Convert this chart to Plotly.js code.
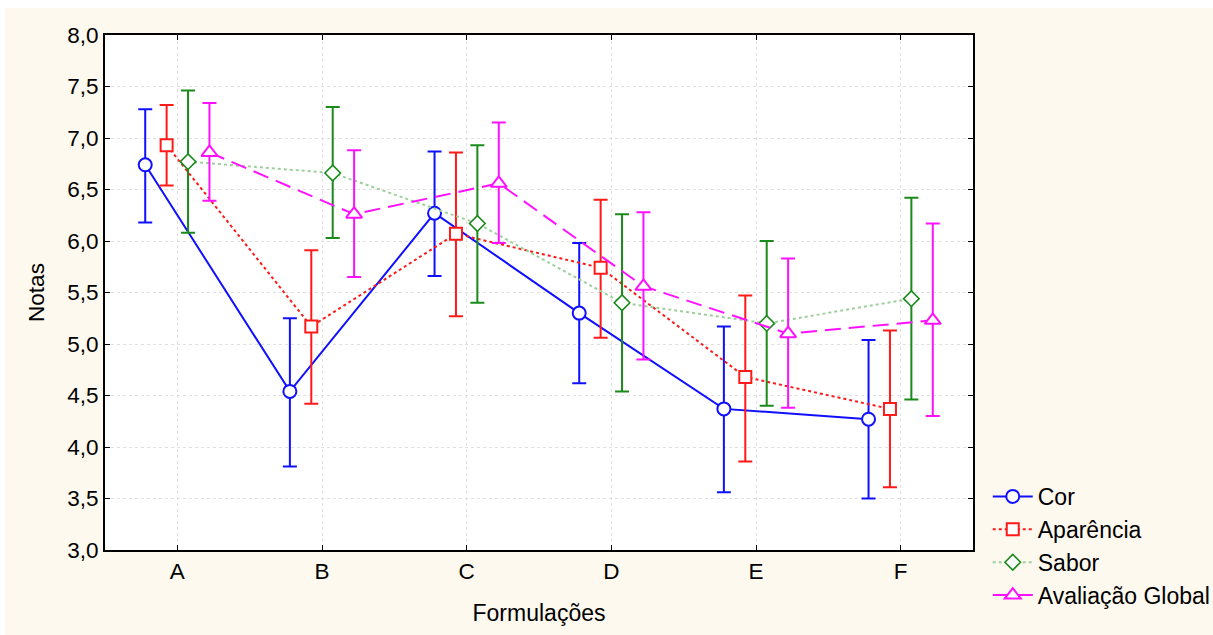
<!DOCTYPE html>
<html>
<head>
<meta charset="utf-8">
<script src="https://cdn.plot.ly/plotly-3.0.1.min.js"></script>
<style>
  html, body { margin: 0; padding: 0; background: #ffffff; }
  #chart { position: absolute; left: 5px; top: 8px; width: 1208px; height: 627px; }
</style>
</head>
<body>
<div id="chart"></div>
<script>
// Categories (formulations)
const categories = ['A', 'B', 'C', 'D', 'E', 'F'];

// Series means and confidence limits
const corMean = [6.74, 4.54, 6.27, 5.30, 4.37, 4.27];
const corUp   = [7.28, 5.25, 6.87, 5.98, 5.17, 5.04];
const corLo   = [6.18, 3.81, 5.66, 4.62, 3.56, 3.50];

const aparMean = [6.93, 5.17, 6.07, 5.74, 4.68, 4.37];
const aparUp   = [7.32, 5.91, 6.86, 6.40, 5.47, 5.13];
const aparLo   = [6.54, 4.42, 5.27, 5.06, 3.86, 3.61];

const saborMean = [6.77, 6.66, 6.17, 5.40, 5.20, 5.44];
const saborUp   = [7.46, 7.30, 6.93, 6.26, 6.00, 6.42];
const saborLo   = [6.08, 6.03, 5.40, 4.54, 4.40, 4.46];

const globMean = [6.86, 6.26, 6.56, 5.56, 5.10, 5.23];
const globUp   = [7.34, 6.88, 7.15, 6.28, 5.83, 6.17];
const globLo   = [6.39, 5.65, 5.98, 4.85, 4.38, 4.30];

const seriesNames = ['Cor', 'Aparência', 'Sabor', 'Avaliação Global'];

const yTicks = [3.0, 3.5, 4.0, 4.5, 5.0, 5.5, 6.0, 6.5, 7.0, 7.5, 8.0];

const catIdx = categories.map((c, i) => i);

function mk(name, mean, up, lo, offset, opts) {
  return {
    type: 'scatter',
    mode: 'lines+markers',
    name: name,
    x: catIdx.map(i => i + offset),
    y: mean,
    line: opts.line,
    marker: opts.marker,
    error_y: {
      type: 'data',
      symmetric: false,
      array: mean.map((m, i) => up[i] - m),
      arrayminus: mean.map((m, i) => m - lo[i]),
      color: opts.errColor,
      thickness: 2,
      width: 7
    },
    cliponaxis: false
  };
}

const traces = [
  mk(seriesNames[0], corMean, corUp, corLo, -0.222, {
    line: { color: '#1010ff', width: 2, dash: 'solid' },
    marker: { symbol: 'circle', size: 13, color: '#ffffff', line: { color: '#1010ff', width: 2 } },
    errColor: '#1010ff'
  }),
  mk(seriesNames[1], aparMean, aparUp, aparLo, -0.074, {
    line: { color: '#ff1a1a', width: 2, dash: 'dot' },
    marker: { symbol: 'square', size: 12, color: '#ffffff', line: { color: '#ff1a1a', width: 2 } },
    errColor: '#ff1a1a'
  }),
  mk(seriesNames[2], saborMean, saborUp, saborLo, 0.074, {
    line: { color: '#9ccf9c', width: 2, dash: 'dot' },
    marker: { symbol: 'diamond', size: 12, color: '#ffffff', line: { color: '#1a8a1a', width: 1.6 } },
    errColor: '#1a8a1a'
  }),
  mk(seriesNames[3], globMean, globUp, globLo, 0.222, {
    line: { color: '#ff10ff', width: 2, dash: '16px,8px' },
    marker: { symbol: 'triangle-up', size: 14, color: '#ffffff', line: { color: '#ff10ff', width: 2 } },
    errColor: '#ff10ff'
  })
];

const fontFam = 'Liberation Sans, Arial, sans-serif';
const fs = 22.5;

const layout = {
  width: 1208,
  height: 627,
  paper_bgcolor: '#fef9ee',
  plot_bgcolor: '#ffffff',
  separators: ',.',
  margin: { l: 100, r: 240, t: 27, b: 85, autoexpand: false },
  font: { family: fontFam, size: fs, color: '#000000' },
  showlegend: true,
  legend: {
    x: 1.017, xanchor: 'left',
    y: -0.13, yanchor: 'bottom',
    bgcolor: 'rgba(0,0,0,0)',
    font: { family: fontFam, size: 23, color: '#000000' },
    tracegroupgap: 0,
    itemwidth: 40
  },
  xaxis: {
    range: [-0.5, 5.5],
    tickmode: 'array',
    tickvals: catIdx,
    ticktext: categories,
    ticks: 'inside',
    ticklen: 5,
    tickcolor: '#000000',
    showline: true,
    linecolor: '#000000',
    linewidth: 2,
    mirror: 'ticks',
    showgrid: true,
    gridcolor: '#e0e0e0',
    griddash: 'dot',
    gridwidth: 1,
    zeroline: false,
    tickfont: { family: fontFam, size: fs },
    title: { text: 'Formulações', font: { family: fontFam, size: 23 }, standoff: 22 }
  },
  yaxis: {
    range: [3, 8],
    tickmode: 'array',
    tickvals: yTicks,
    tickformat: '.1f',
    ticks: 'inside',
    ticklen: 5,
    tickcolor: '#000000',
    showline: true,
    linecolor: '#000000',
    linewidth: 2,
    mirror: 'ticks',
    showgrid: true,
    gridcolor: '#e0e0e0',
    griddash: 'dot',
    gridwidth: 1,
    zeroline: false,
    tickfont: { family: fontFam, size: fs },
    title: { text: 'Notas', font: { family: fontFam, size: 22.5 }, standoff: 16 }
  }
};

Plotly.newPlot('chart', traces, layout, { displayModeBar: false, staticPlot: true });
</script>
</body>
</html>
